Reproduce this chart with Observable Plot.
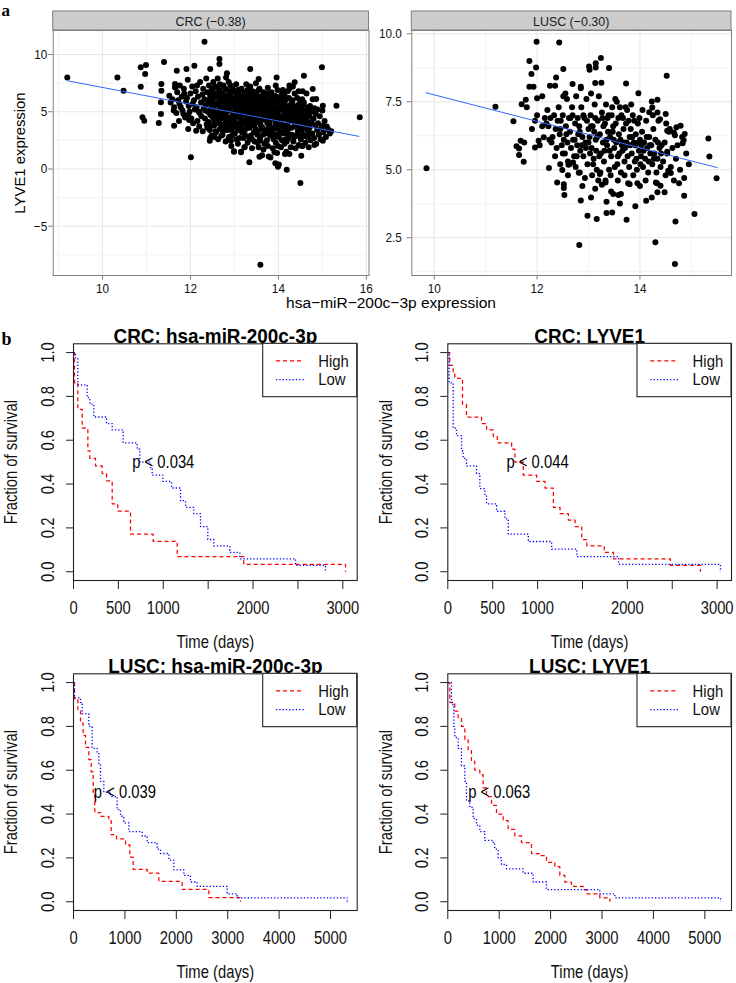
<!DOCTYPE html>
<html>
<head>
<meta charset="utf-8">
<script src="https://cdn.jsdelivr.net/npm/d3@7"></script>
<script src="https://cdn.jsdelivr.net/npm/@observablehq/plot@0.6"></script>
<style>
html,body{margin:0;padding:0;background:#fff;}
#root{position:relative;width:736px;height:983px;overflow:hidden;background:#fff;font-family:"Liberation Sans",Arial,Helvetica,sans-serif;}
#root > svg{position:absolute;}
</style>
</head>
<body>
<div id="root"></div>
<script>
// ---------------- Panel a data ----------------
const crcPoints = [
[9.2,8.0],[10.34,8.0],[10.48,6.84],[10.87,8.88],[10.99,9.08],[10.97,8.3],[10.87,7.19],[10.91,4.51],[10.95,4.22],[11.28,4.02],
[11.4,9.34],[11.34,7.42],[11.34,6.84],[11.33,5.82],[11.33,4.8],[11.63,3.78],[11.69,8.59],[11.65,7.42],[11.65,7.13],[11.91,8.73],
[12.09,9.02],[12.01,1.02],[12.32,11.12],[12.45,8.73],[12.66,9.61],[12.66,9.17],[12.83,8.36],[12.81,8.0],[13.36,8.73],[13.55,7.86],
[13.96,8.0],[14.99,8.88],[14.58,8.15],[14.37,7.57],[14.78,6.99],[15.32,5.53],[15.85,4.51],[15.01,5.53],[14.86,6.11],[15.01,3.78],
[15.12,3.49],[15.2,3.29],[15.01,2.47],[14.82,2.1],[14.52,1.16],[14.5,-1.22],[14.19,-0.06],[14.01,0.38],[13.93,0.49],[13.99,0.2],
[13.59,-8.36],[13.34,0.58],[12.99,1.54],[13.15,1.46],[13.23,1.89],[12.44,2.47],[12.45,2.71],[12.92,2.47],[11.95,3.49],[11.97,4.28],
[12.13,3.35],[12.39,3.64],[14.25,1.31],[13.91,1.45],[13.82,1.01],[13.57,1.07],[14.52,2.03],[14.25,7.3],[14.1,6.9],
[11.52,6.4],[11.59,6.1],[11.63,5.4],[11.66,7.1],[11.55,5.8],[11.68,4.9],[11.7,6.7],[11.62,5.1],
[11.72,6.0],[11.75,5.7],[11.78,5.4],[11.8,6.3],[11.82,5.1],[11.84,4.8],[11.76,7.3],[11.86,6.6],[11.88,4.5],[11.9,5.9],[11.74,4.2],[11.85,7.0],
[11.92,6.2],[11.94,7.8],[11.96,5.5],[11.98,5.0],[12.0,6.6],[12.02,4.4],[12.04,7.2],[12.05,5.7],[12.06,4.0],[12.08,6.0],[11.95,4.7],[12.1,5.2],
[12.12,6.8],[12.14,5.4],[12.16,4.2],[12.17,6.3],[12.19,5.0],[12.2,3.7],[12.22,7.6],[12.24,5.8],[12.25,4.6],[12.27,6.5],[12.28,3.3],[12.3,5.3],[12.15,7.3],[12.21,4.9],[12.29,7.0],
[12.32,6.1],[12.33,4.4],[12.35,5.6],[12.36,7.9],[12.37,3.9],[12.38,6.7],[12.4,5.0],[12.41,4.1],[12.42,7.3],[12.43,5.9],[12.44,3.4],[12.45,6.4],[12.46,4.7],[12.47,5.3],[12.48,2.9],[12.49,7.0],[12.34,5.1],[12.39,3.6],[12.46,5.7],
[12.5,6.0],[12.51,4.5],[12.52,7.6],[12.53,5.2],[12.54,3.8],[12.55,6.6],[12.56,4.9],[12.57,5.6],[12.58,3.2],[12.59,7.1],[12.6,4.3],[12.61,6.3],[12.62,5.0],[12.63,2.6],[12.64,5.8],[12.65,4.0],[12.66,6.9],[12.67,3.5],[12.68,5.4],[12.69,4.7],[12.53,6.2],[12.57,3.3],[12.62,7.9],[12.66,6.1],
[12.7,5.9],[12.71,4.4],[12.72,6.6],[12.73,3.0],[12.74,5.2],[12.75,7.3],[12.76,4.8],[12.77,3.7],[12.78,6.2],[12.79,5.5],[12.8,2.4],[12.81,4.1],[12.82,6.9],[12.83,5.0],[12.84,3.4],[12.85,5.7],[12.86,4.5],[12.87,7.6],[12.88,6.0],[12.89,3.9],[12.72,5.4],[12.76,6.4],[12.8,4.6],[12.84,5.3],[12.88,2.8],[12.74,3.3],
[12.9,5.1],[12.91,6.5],[12.92,4.2],[12.93,2.0],[12.94,5.8],[12.95,3.6],[12.96,7.0],[12.97,4.8],[12.98,5.5],[12.99,1.5],[13.0,6.2],[13.01,3.1],[13.02,4.5],[13.03,5.2],[13.04,7.4],[13.05,2.6],[13.06,6.0],[13.07,4.0],[13.08,5.6],[13.09,3.4],[12.92,6.8],[12.95,4.6],[12.98,3.8],[13.01,5.9],[13.04,4.9],[13.07,6.6],[12.94,2.9],[13.08,2.2],
[13.1,5.0],[13.11,6.4],[13.12,3.8],[13.13,5.7],[13.14,4.4],[13.15,1.5],[13.16,7.0],[13.17,3.2],[13.18,5.3],[13.19,6.0],[13.2,4.7],[13.21,2.7],[13.22,6.7],[13.23,1.9],[13.24,5.5],[13.25,4.1],[13.26,3.5],[13.27,7.4],[13.28,4.9],[13.29,6.2],[13.12,4.9],[13.15,5.9],[13.18,4.0],[13.21,5.1],[13.24,3.0],[13.27,5.8],[13.14,6.9],[13.26,4.4],[13.3,2.3],
[13.31,5.6],[13.32,4.3],[13.33,6.5],[13.34,3.6],[13.35,5.0],[13.36,7.2],[13.37,2.9],[13.38,4.7],[13.39,5.9],[13.4,1.8],[13.41,6.8],[13.42,4.0],[13.43,5.3],[13.44,3.2],[13.45,6.2],[13.46,2.4],[13.47,4.9],[13.48,5.7],[13.49,7.5],[13.33,4.8],[13.36,5.4],[13.39,3.9],[13.42,6.0],[13.45,4.5],[13.48,3.5],[13.35,6.9],[13.44,5.1],[13.4,2.6],
[13.5,5.2],[13.51,4.1],[13.52,6.4],[13.53,3.3],[13.54,5.8],[13.55,1.9],[13.56,4.6],[13.57,7.0],[13.58,2.7],[13.59,5.5],[13.6,3.8],[13.61,6.1],[13.62,4.9],[13.63,1.2],[13.64,5.3],[13.65,3.0],[13.66,6.7],[13.67,4.3],[13.68,2.2],[13.69,5.0],[13.52,4.8],[13.55,6.9],[13.58,4.4],[13.61,5.1],[13.64,3.6],[13.67,5.9],[13.53,2.3],[13.66,1.7],
[13.7,4.6],[13.71,6.3],[13.72,3.4],[13.73,5.6],[13.74,2.5],[13.75,4.0],[13.76,7.1],[13.77,5.2],[13.78,1.1],[13.79,3.7],[13.8,6.0],[13.81,4.7],[13.82,2.9],[13.83,5.4],[13.84,6.7],[13.85,3.2],[13.86,4.4],[13.87,1.8],[13.88,5.9],[13.89,4.9],[13.72,5.0],[13.75,6.6],[13.78,4.3],[13.81,3.0],[13.84,5.1],[13.87,6.3],[13.76,2.0],[13.89,2.6],
[13.9,5.3],[13.91,3.5],[13.92,6.4],[13.93,4.2],[13.94,2.3],[13.95,5.7],[13.96,4.8],[13.97,1.4],[13.98,6.9],[13.99,3.8],[14.0,5.0],[14.01,2.8],[14.02,6.1],[14.03,4.5],[14.04,3.2],[14.05,5.5],[14.06,1.9],[14.07,4.1],[14.08,6.6],[14.09,5.2],[13.93,5.9],[13.96,3.0],[14.0,4.6],[14.04,5.8],[14.08,2.5],[13.94,7.3],
[14.1,4.4],[14.11,5.9],[14.12,3.1],[14.13,5.1],[14.14,2.2],[14.15,6.3],[14.16,3.8],[14.17,4.8],[14.18,1.5],[14.19,5.5],[14.2,3.4],[14.21,6.8],[14.22,4.2],[14.23,2.7],[14.24,5.0],[14.25,7.0],[14.26,3.6],[14.27,4.6],[14.28,1.9],[14.29,5.7],[14.13,6.6],[14.17,2.6],[14.21,4.0],[14.25,5.3],[14.15,1.3],
[14.3,4.9],[14.31,3.0],[14.32,6.0],[14.33,4.3],[14.34,2.4],[14.35,5.4],[14.36,3.7],[14.37,6.6],[14.38,4.0],[14.39,1.8],[14.4,5.1],[14.41,2.9],[14.42,4.6],[14.43,6.2],[14.44,3.3],[14.45,5.6],[14.46,2.1],[14.47,4.3],[14.48,3.6],[14.49,5.0],[14.33,7.2],[14.4,3.9],[14.46,6.8],
[14.5,4.1],[14.51,2.6],[14.52,5.3],[14.53,3.4],[14.54,6.1],[14.55,2.0],[14.56,4.7],[14.57,3.0],[14.58,5.8],[14.6,3.8],[14.61,2.3],[14.62,5.1],[14.63,4.4],[14.64,6.6],[14.65,2.8],[14.66,4.0],[14.67,5.4],[14.68,3.3],[14.69,1.9],[14.55,6.8],[14.6,4.9],
[14.7,4.6],[14.71,3.6],[14.72,5.5],[14.73,2.5],[14.74,4.1],[14.76,5.0],[14.77,3.1],[14.78,6.1],[14.8,4.4],[14.81,2.7],[14.82,5.3],[14.84,3.8],[14.85,4.8],[14.86,2.2],[14.88,3.4],[14.89,5.2],
[14.9,4.0],[14.92,3.0],[14.94,4.6],[14.96,2.6],[14.98,3.6],[15.0,5.1],[15.02,3.2],[15.05,4.2],[15.08,2.8],[15.1,3.7],[15.14,3.4],[15.17,3.1],
[12.41,6.0],[12.43,4.9],[12.47,6.8],[12.49,3.8],[12.51,5.5],[12.54,4.2],[12.56,7.2],[12.58,6.5],[12.6,5.7],[12.55,2.8],
[12.61,4.5],[12.63,6.6],[12.65,5.1],[12.67,7.4],[12.7,3.9],[12.72,6.2],[12.74,4.5],[12.77,5.8],[12.79,7.0],[12.7,2.9],
[12.81,5.9],[12.83,3.7],[12.85,6.4],[12.87,4.2],[12.89,5.4],[12.91,7.3],[12.93,3.4],[12.95,6.1],[12.97,4.4],[12.99,5.7],[12.86,2.6],
[13.0,4.1],[13.02,6.7],[13.04,3.6],[13.06,5.1],[13.08,6.9],[13.1,4.6],[13.12,2.7],[13.14,5.4],[13.16,6.3],[13.18,3.5],[13.19,4.8],
[13.2,5.8],[13.22,4.3],[13.24,6.5],[13.26,5.2],[13.28,3.8],[13.3,6.9],[13.32,5.0],[13.34,2.7],[13.36,4.2],[13.38,6.2],[13.39,5.5],
[13.41,4.6],[13.43,6.5],[13.45,3.8],[13.47,5.5],[13.49,4.3],[13.5,6.7],[13.52,3.0],[13.54,5.0],[13.56,6.1],[13.58,4.0],[13.59,2.5],
[13.6,5.8],[13.62,3.5],[13.64,6.4],[13.66,4.7],[13.68,5.5],[13.7,3.1],[13.72,6.0],[13.74,4.4],[13.76,5.7],[13.78,3.4],[13.79,6.5],
[13.8,4.0],[13.82,5.6],[13.84,3.6],[13.86,6.1],[13.88,4.5],[13.9,2.8],[13.92,5.1],[13.94,3.9],[13.96,6.3],[13.98,4.6],[13.99,2.0],
[14.0,3.5],[14.02,5.3],[14.04,4.2],[14.06,6.3],[14.08,3.7],[14.1,5.6],[14.12,4.7],[14.14,3.3],[14.16,6.0],[14.18,4.4],[14.19,2.4],
[14.2,4.9],[14.22,3.1],[14.24,6.2],[14.26,4.2],[14.28,5.2],[14.3,3.6],[14.32,5.7],[14.34,4.6],[14.36,2.8],[14.38,5.0],
[14.41,4.2],[14.43,5.3],[14.45,3.0],[14.47,4.9],[14.49,6.0],[14.51,3.6],[14.53,4.5],[14.56,5.6],[14.58,2.9],
[14.61,4.2],[14.64,3.5],[14.67,4.9],[14.7,3.0],[14.73,5.1],[14.76,4.0]
];
const luscPoints = [
[9.85,5.05],[11.19,7.32],[11.54,6.78],[11.7,7.41],[11.78,7.57],[11.85,9.0],[11.89,8.52],[11.85,8.05],[11.93,8.05],[11.98,8.76],
[11.99,9.71],[12.0,7.63],[12.1,7.7],[11.96,6.8],[12.25,8.09],[12.35,8.09],[12.37,8.39],[12.43,9.68],[12.51,8.7],[11.6,5.86],
[11.65,5.78],[11.68,6.07],[11.65,5.54],[11.74,5.29],[11.96,5.82],[12.23,5.06],[12.39,4.53],[12.52,4.47],[12.52,4.33],[12.53,4.07],
[12.49,4.99],[12.61,5.18],[12.7,5.27],[12.81,4.89],[12.85,3.87],[12.82,2.23],[12.98,3.31],[13.05,3.98],[13.16,3.19],[13.22,4.84],
[13.26,4.45],[13.33,4.53],[13.35,3.82],[13.35,3.41],[13.46,3.43],[13.48,4.11],[13.58,4.07],[13.61,3.76],[13.63,4.11],[13.74,3.16],
[13.8,4.47],[13.91,3.66],[14.12,3.86],[14.23,3.98],[14.3,2.33],[14.31,4.53],[14.34,4.17],[14.4,4.41],[14.48,4.17],[14.55,4.96],
[14.6,4.88],[14.69,3.1],[14.76,4.5],[14.68,1.53],[14.86,4.04],[15.06,3.37],[15.49,4.69],[15.33,6.15],[15.35,5.49],[14.87,6.31],
[14.85,6.09],[14.83,5.97],[14.71,6.56],[14.68,6.27],[14.58,6.5],[14.53,5.66],[14.52,8.46],[14.39,6.86],[14.34,7.57],[14.23,7.51],
[14.24,7.29],[14.18,7.11],[13.97,7.81],[13.73,8.17],[13.4,8.74],[13.24,9.11],[13.14,8.92],[13.14,8.76],[13.01,8.8],[13.02,8.68],
[13.13,8.19],[12.85,8.05],[12.69,8.15],[12.51,7.7],[14.79,6.62],[14.66,6.37],[14.53,6.43],[14.51,6.7],[14.5,7.05],[14.34,7.1],
[12.03,6.07],[12.13,6.19],[12.18,6.7],[12.2,7.2],[12.15,6.9],[11.75,6.0],[11.9,6.5],[12.05,5.9],[12.1,6.6],[12.0,7.0],[11.8,7.3],
[12.22,6.6],[12.26,6.9],[12.3,6.2],[12.33,7.0],[12.36,6.5],[12.38,5.8],[12.28,6.0],[12.35,5.5],[12.4,6.8],[12.24,6.1],
[12.42,7.3],[12.44,6.3],[12.46,6.8],[12.48,5.9],[12.5,7.0],[12.52,6.1],[12.54,5.6],[12.56,6.6],[12.58,7.6],[12.6,5.3],[12.45,5.2],[12.55,7.8],[12.59,6.0],
[12.62,6.9],[12.64,6.4],[12.66,5.8],[12.68,7.3],[12.7,6.1],[12.72,5.5],[12.74,6.7],[12.76,7.7],[12.78,5.9],[12.8,6.3],[12.63,5.2],[12.69,7.0],[12.75,5.1],[12.79,6.9],
[12.82,6.6],[12.84,5.7],[12.86,7.3],[12.88,6.2],[12.9,5.5],[12.92,6.9],[12.94,6.0],[12.96,7.6],[12.98,5.2],[13.0,6.5],[12.83,4.9],[12.87,5.9],[12.93,4.7],[12.97,6.8],[12.85,8.0],
[13.02,6.2],[13.04,7.0],[13.06,5.8],[13.08,6.6],[13.1,5.4],[13.12,7.4],[13.14,6.1],[13.16,5.0],[13.18,6.8],[13.2,7.7],[13.03,5.6],[13.07,4.8],[13.11,6.4],[13.15,5.7],[13.19,4.6],[13.05,7.8],
[13.22,6.3],[13.24,5.6],[13.26,7.1],[13.28,6.0],[13.3,5.3],[13.32,6.7],[13.34,7.4],[13.36,5.9],[13.38,6.4],[13.4,5.0],[13.23,4.9],[13.27,6.9],[13.31,5.7],[13.35,6.1],[13.39,7.0],[13.33,4.6],[13.25,8.2],
[13.42,6.2],[13.44,5.5],[13.46,7.3],[13.48,6.6],[13.5,5.8],[13.52,7.6],[13.54,6.0],[13.56,5.2],[13.58,6.9],[13.6,5.6],[13.43,4.8],[13.47,6.4],[13.51,5.1],[13.55,7.5],[13.59,6.3],[13.45,7.0],[13.57,4.6],
[13.62,6.1],[13.64,7.0],[13.66,5.7],[13.68,6.5],[13.7,5.3],[13.72,7.3],[13.74,6.0],[13.76,5.5],[13.78,6.8],[13.8,6.2],[13.63,4.9],[13.67,6.9],[13.71,5.8],[13.75,7.2],[13.79,5.1],[13.65,5.9],[13.77,4.5],
[13.82,6.5],[13.84,5.6],[13.86,7.0],[13.88,6.0],[13.9,5.3],[13.92,6.3],[13.94,5.0],[13.96,6.7],[13.98,5.7],[14.0,6.1],[13.83,7.4],[13.87,4.8],[13.91,5.9],[13.95,4.5],[13.99,6.9],
[14.02,5.5],[14.04,6.4],[14.06,5.1],[14.08,6.0],[14.1,5.4],[14.12,6.8],[14.14,5.8],[14.16,4.9],[14.18,6.2],[14.2,5.6],[14.05,7.2],[14.11,4.6],[14.17,5.3],[14.03,5.9],
[14.22,5.9],[14.24,5.2],[14.26,6.5],[14.28,5.6],[14.3,6.1],[14.32,4.9],[14.34,5.4],[14.36,6.8],[14.38,5.8],[14.4,5.1],[14.25,7.0],[14.33,4.5],
[14.42,5.9],[14.45,5.3],[14.48,6.0],[14.5,4.8],[14.53,5.6],[14.56,6.4],[14.6,5.1],[14.63,5.8],[14.66,4.6],[14.7,5.4],
[14.73,5.9],[14.78,5.0],[14.82,6.2],[14.86,4.7],[14.9,5.6],[14.95,5.2],
[12.45,6.5],[12.5,5.6],[12.57,6.3],[12.65,6.9],[12.73,6.1],[12.77,5.5],[12.83,6.4],[12.9,7.0],[12.95,5.8],[13.0,6.0],[13.05,6.6],[13.09,5.2],
[13.13,6.9],[13.17,6.2],[13.21,5.5],[13.29,6.6],[13.37,6.9],[13.41,5.7],[13.49,6.1],[13.53,6.7],[13.57,5.5],[13.61,7.3],[13.69,6.0],[13.73,6.7],
[13.81,5.9],[13.85,6.2],[13.89,6.8],[13.93,5.4],[13.97,6.0],[14.01,5.2],[14.07,5.7],[14.13,6.2],[14.19,5.9],[14.27,5.4],[14.35,6.0],[14.41,5.6],
[12.88,4.4],[13.13,4.3],[13.44,4.2],[13.7,4.8],[14.0,4.4],[12.6,4.8]
];
// fitted-line end points
const crcFit = [[9.2, 7.71], [15.83, 2.85]];
const luscFit = [[9.84, 7.83], [15.5, 5.08]];
const crcXTicks = [10, 12, 14, 16];
const crcXMinor = [9, 11, 13, 15];
const crcYTicks = [-5, 0, 5, 10];
const crcYMinor = [-7.5, -2.5, 2.5, 7.5];
const luscXTicks = [10, 12, 14];
const luscXMinor = [11, 13, 15];
const luscYTicks = [2.5, 5, 7.5, 10];
const luscYMinor = [1.25, 3.75, 6.25, 8.75];
const stripLabels = ["CRC (\u22120.38)", "LUSC (\u22120.30)"];
const scatterXTitle = "hsa\u2212miR\u2212200c\u22123p expression";
const scatterYTitle = "LYVE1 expression";

// ---------------- Panel b data (time in days, survival fraction) ----------------
const crcMirHigh = [[0,1],[11,0.862],[48,0.741],[97,0.655],[160,0.552],[182,0.517],[245,0.483],[319,0.448],[368,0.414],[431,0.31],[494,0.276],[635,0.172],[887,0.138],[1155,0.069],[1897,0.034],[3030,0]];
const crcMirLow = [[0,1],[22,0.971],[48,0.853],[152,0.794],[182,0.765],[226,0.706],[368,0.676],[431,0.647],[553,0.588],[709,0.559],[739,0.5],[858,0.471],[876,0.441],[995,0.412],[1092,0.382],[1192,0.324],[1248,0.294],[1340,0.265],[1415,0.206],[1496,0.147],[1563,0.118],[1741,0.088],[1853,0.059],[2473,0.029],[2807,0]];
const crcLyveHigh = [[0,1],[22,0.941],[60,0.912],[78,0.882],[164,0.765],[208,0.706],[376,0.676],[432,0.647],[506,0.618],[551,0.588],[711,0.559],[748,0.5],[841,0.441],[990,0.412],[1083,0.382],[1176,0.294],[1250,0.265],[1343,0.235],[1418,0.206],[1492,0.147],[1548,0.118],[1742,0.088],[1846,0.059],[2479,0.029],[2814,0]];
const crcLyveLow = [[0,1],[15,0.862],[60,0.655],[97,0.621],[153,0.552],[171,0.517],[208,0.483],[320,0.448],[357,0.379],[413,0.345],[432,0.31],[543,0.276],[636,0.241],[674,0.172],[897,0.138],[1157,0.103],[1437,0.069],[1902,0.034],[3037,0]];
const luscMirHigh = [[0,1],[19,0.926],[84,0.87],[136,0.815],[188,0.759],[233,0.704],[298,0.648],[344,0.593],[383,0.5],[415,0.407],[525,0.389],[687,0.37],[733,0.306],[837,0.287],[1012,0.259],[1096,0.204],[1161,0.148],[1433,0.13],[1660,0.093],[2114,0.056],[2633,0.019],[3249,0]];
const luscMirLow = [[0,1],[19,0.93],[136,0.91],[169,0.858],[298,0.8],[363,0.7],[460,0.68],[493,0.63],[525,0.55],[590,0.5],[720,0.48],[850,0.42],[914,0.39],[979,0.36],[1077,0.32],[1336,0.3],[1433,0.27],[1628,0.24],[1693,0.22],[1855,0.19],[1952,0.145],[2147,0.12],[2276,0.09],[2406,0.07],[2990,0.036],[3184,0.018],[5324,0]];
const luscLyveHigh = [[0,1],[39,0.91],[136,0.87],[201,0.84],[266,0.8],[331,0.74],[396,0.69],[460,0.64],[525,0.6],[623,0.58],[687,0.52],[752,0.48],[850,0.44],[947,0.4],[1077,0.37],[1174,0.33],[1304,0.3],[1433,0.27],[1628,0.22],[1790,0.21],[1920,0.18],[2082,0.16],[2179,0.12],[2276,0.09],[2406,0.07],[2633,0.055],[2698,0.036],[2957,0.018],[3152,0]];
const luscLyveLow = [[0,1],[71,0.9],[117,0.8],[136,0.75],[201,0.7],[266,0.62],[331,0.55],[363,0.46],[428,0.43],[493,0.38],[558,0.35],[623,0.32],[720,0.28],[882,0.27],[914,0.24],[979,0.2],[1044,0.17],[1141,0.15],[1466,0.13],[1660,0.09],[1920,0.055],[2957,0.036],[3249,0.018],[5305,0]];
const survTicks = [0, 0.2, 0.4, 0.6, 0.8, 1.0];
const crcTimeTicks = [0, 500, 1000, 1500, 2000, 2500, 3000];
const crcTimeLabels = [0, 500, 1000, 2000, 3000];
const luscTimeTicks = [0, 1000, 2000, 3000, 4000, 5000];
const kmTitles = ["CRC: hsa-miR-200c-3p", "CRC: LYVE1", "LUSC: hsa-miR-200c-3p", "LUSC: LYVE1"];
const pLabels = ["p < 0.034", "p < 0.044", "p < 0.039", "p < 0.063"];
const pAt = [1000, 0.5];
const legendLabels = ["High", "Low"];

// ---------------- helpers ----------------
const root = document.getElementById("root");
const FONT = '"Liberation Sans", Arial, Helvetica, sans-serif';

// horizontally condense text (the reference uses a narrow sans); match = exact text content, or null for all
function condense(svg, f, match) {
  svg.querySelectorAll("text").forEach(t => {
    if (t.getAttribute("data-cond")) return;
    if (match != null && t.textContent !== match) return;
    t.setAttribute("data-cond", "1");
    const x = parseFloat(t.getAttribute("x")) || 0;
    const tr = t.getAttribute("transform") || "";
    t.setAttribute("transform", `${tr} translate(${x},0) scale(${f},1) translate(${-x},0)`);
  });
}
function place(svg, left, top) {
  svg.style.position = "absolute";
  svg.style.left = left + "px";
  svg.style.top = top + "px";
  root.appendChild(svg);
}
const minusFmt = d => d < 0 ? "\u2212" + Math.abs(d) : String(d);

function scatter(c) {
  const marks = [
    Plot.ruleX(c.xMinor, {stroke: "#f3f3f3"}),
    Plot.ruleY(c.yMinor, {stroke: "#f3f3f3"}),
    Plot.ruleX(c.xMajor, {stroke: "#e6e6e6"}),
    Plot.ruleY(c.yMajor, {stroke: "#e6e6e6"}),
    Plot.dot(c.points, {x: d => d[0], y: d => d[1], r: 3, fill: "#000"}),
    Plot.line(c.fit, {x: d => d[0], y: d => d[1], stroke: "#3366FF", strokeWidth: 1}),
    Plot.frame({stroke: "#7f7f7f"}),
    Plot.axisX(c.xMajor, {tickSize: 4.5, tickPadding: 3.5, stroke: "#7f7f7f", fill: "#111", label: null, fontSize: 13.5}),
    Plot.axisY(c.yMajor, {tickSize: 4.5, tickPadding: c.yPad, tickFormat: c.yFmt, stroke: "#7f7f7f", fill: "#111", label: null, fontSize: 13.5})
  ];
  if (c.yTitle) marks.push(Plot.text([c.yTitle], {frameAnchor: "left", dx: -33, rotate: -90, text: d => d, fontSize: 15.5, fill: "#000", textAnchor: "middle", lineAnchor: "middle"}));
  const svg = Plot.plot({
    width: c.w, height: 300,
    marginLeft: c.ml, marginRight: c.mr, marginTop: 30, marginBottom: 25,
    style: {fontFamily: FONT, fontSize: "13.5px", color: "#111", background: "transparent", overflow: "visible"},
    x: {domain: c.xDomain}, y: {domain: c.yDomain},
    marks
  });
  if (c.yTitle) condense(svg, 0.96, c.yTitle);
  condense(svg, 0.87, null);
  place(svg, c.left, 0);
}

scatter({left: 0, w: 372, ml: 52.7, mr: 3.5, xDomain: [8.88, 16.06], yDomain: [-9.31, 12.1],
  points: crcPoints, fit: crcFit, xMajor: crcXTicks, xMinor: crcXMinor, yMajor: crcYTicks, yMinor: crcYMinor,
  yPad: 1.5, yFmt: minusFmt, yTitle: scatterYTitle});
scatter({left: 366, w: 370, ml: 45.3, mr: 5, xDomain: [9.564, 15.78], yDomain: [1.11, 10.12],
  points: luscPoints, fit: luscFit, xMajor: luscXTicks, xMinor: luscXMinor, yMajor: luscYTicks, yMinor: luscYMinor,
  yPad: 5.5, yFmt: d => d.toFixed(1), yTitle: null});

// ---------------- KM panels ----------------
const kmPanels = [
  {left: 0, top: 318, w: 368, h: 337, ml: 73, mr: 11.3, mt: 25.3, mb: 75, xMax: 3160, ticks: crcTimeTicks, labels: crcTimeLabels, high: crcMirHigh, low: crcMirLow},
  {left: 366, top: 318, w: 370, h: 337, ml: 81.3, mr: 5, mt: 25.3, mb: 75, xMax: 3160, ticks: crcTimeTicks, labels: crcTimeLabels, high: crcLyveHigh, low: crcLyveLow},
  {left: 0, top: 648, w: 368, h: 335, ml: 73, mr: 11.3, mt: 25.3, mb: 73, xMax: 5519, ticks: luscTimeTicks, labels: luscTimeTicks, high: luscMirHigh, low: luscMirLow},
  {left: 366, top: 648, w: 370, h: 335, ml: 81.3, mr: 5, mt: 25.3, mb: 73, xMax: 5519, ticks: luscTimeTicks, labels: luscTimeTicks, high: luscLyveHigh, low: luscLyveLow}
];
const RED = "#ff0000", BLUE = "#0000ff", DASH = "4,3", DOT = "1.3,2";

kmPanels.forEach((c, i) => {
  const svg = Plot.plot({
    width: c.w, height: c.h,
    marginLeft: c.ml, marginRight: c.mr, marginTop: c.mt, marginBottom: c.mb,
    style: {fontFamily: FONT, fontSize: "18.5px", color: "#000", background: "transparent", overflow: "visible"},
    x: {domain: [0, c.xMax]}, y: {domain: [-0.04, 1.04]},
    marks: [
      Plot.line(c.high, {x: d => d[0], y: d => d[1], curve: "step-after", stroke: RED, strokeWidth: 1.25, strokeDasharray: DASH, strokeLinecap: "butt"}),
      Plot.line(c.low, {x: d => d[0], y: d => d[1], curve: "step-after", stroke: BLUE, strokeWidth: 1.3, strokeDasharray: DOT, strokeLinecap: "butt"}),
      Plot.frame({stroke: "#222", strokeWidth: 1.1}),
      Plot.axisX(c.ticks, {tickSize: 9, tickFormat: () => "", stroke: "#222", label: null}),
      Plot.axisY(survTicks, {tickSize: 7, tickFormat: () => "", stroke: "#222", label: null}),
      Plot.text(c.labels, {x: d => d, frameAnchor: "bottom", dy: 28, text: d => String(d), fontSize: 18.5, textAnchor: "middle", lineAnchor: "middle", fill: "#111"}),
      Plot.text(survTicks, {y: d => d, frameAnchor: "left", dx: -25.6, rotate: -90, text: d => d.toFixed(1), fontSize: 18.5, textAnchor: "middle", lineAnchor: "middle", fill: "#111"}),
      Plot.text([kmTitles[i]], {frameAnchor: "top", dy: -8, text: d => d, fontSize: 21, fontWeight: "bold", textAnchor: "middle", lineAnchor: "middle", fill: "#000"}),
      Plot.text(["Time (days)"], {frameAnchor: "bottom", dy: 62, text: d => d, fontSize: 18.5, textAnchor: "middle", lineAnchor: "middle", fill: "#111"}),
      Plot.text(["Fraction of survival"], {frameAnchor: "left", dx: -62.2, rotate: -90, text: d => d, fontSize: 18.5, textAnchor: "middle", lineAnchor: "middle", fill: "#111"}),
      Plot.text([{label: pLabels[i], t: pAt[0], s: pAt[1]}], {x: "t", y: "s", text: "label", fontSize: 18.5, textAnchor: "middle", lineAnchor: "middle", fill: "#000"})
    ]
  });
  condense(svg, 0.9, kmTitles[i]);
  condense(svg, 0.8, null);
  place(svg, c.left, c.top);
});

// ---------------- overlay: panel letters, strips, shared x title, legends ----------------
const ov = d3.create("svg").attr("width", 736).attr("height", 983)
  .style("position", "absolute").style("left", "0px").style("top", "0px").style("pointer-events", "none")
  .style("font-family", FONT);

ov.append("text").attr("x", 1.5).attr("y", 15.5).attr("font-family", '"Liberation Serif", "Times New Roman", serif')
  .attr("font-weight", "bold").attr("font-size", 17).text("a");
ov.append("text").attr("x", 1.5).attr("y", 345).attr("font-family", '"Liberation Serif", "Times New Roman", serif')
  .attr("font-weight", "bold").attr("font-size", 18).text("b");

const strips = [{x0: 52.7, x1: 368.5}, {x0: 411.3, x1: 731}];
strips.forEach((s, i) => {
  ov.append("rect").attr("x", s.x0).attr("y", 11).attr("width", s.x1 - s.x0).attr("height", 19)
    .attr("fill", "#cccccc").attr("stroke", "#7f7f7f").attr("stroke-width", 1);
  const cx = (s.x0 + s.x1) / 2;
  ov.append("text").attr("transform", `translate(${cx},21.2) scale(0.92,1)`).attr("text-anchor", "middle")
    .attr("dy", "0.35em").attr("font-size", 13.5).attr("fill", "#1a1a1a").text(stripLabels[i]);
});
ov.append("text").attr("x", 391).attr("y", 303).attr("dy", "0.35em").attr("text-anchor", "middle")
  .attr("font-size", 15.5).attr("fill", "#000").text(scatterXTitle);

kmPanels.forEach(c => {
  const bx1 = c.left + c.w - c.mr, by0 = c.top + c.mt;
  const g = ov.append("g").attr("transform", `translate(${bx1 - 94},${by0})`);
  g.append("rect").attr("x", 0).attr("y", 0).attr("width", 94).attr("height", 53.4)
    .attr("fill", "#fff").attr("stroke", "#222").attr("stroke-width", 1.1);
  const rows = [{y: 17.6, color: RED, dash: DASH}, {y: 36.3, color: BLUE, dash: DOT}];
  rows.forEach((r, k) => {
    g.append("line").attr("x1", 13.3).attr("x2", 41.3).attr("y1", r.y).attr("y2", r.y)
      .attr("stroke", r.color).attr("stroke-width", 1.3).attr("stroke-dasharray", r.dash);
    g.append("text").attr("transform", `translate(55.6,${r.y}) scale(0.93,1)`).attr("dy", "0.35em")
      .attr("font-size", 16).attr("fill", "#111").text(legendLabels[k]);
  });
});
root.appendChild(ov.node());
</script>
</body>
</html>
